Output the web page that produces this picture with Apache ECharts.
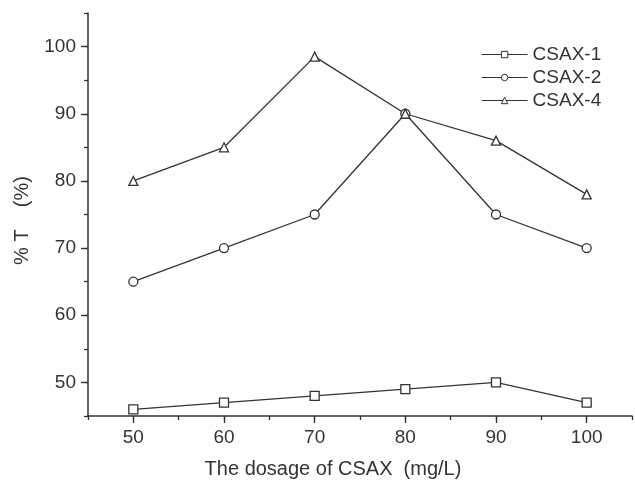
<!DOCTYPE html>
<html>
<head>
<meta charset="utf-8">
<script src="https://cdn.jsdelivr.net/npm/echarts@6/dist/echarts.min.js"></script>
<style>
  html, body { margin: 0; padding: 0; background: #fff; }
</style>
</head>
<body>
<!-- chart container, same size as the reference -->
<div id="chart" style="width: 635px;height:485px;"></div>
<script>
// data
const dosage = [50, 60, 70, 80, 90, 100]
const csax1 = [46, 47, 48, 49, 50, 47]
const csax2 = [65, 70, 75, 90, 75, 70]
const csax4 = [80, 85, 98.5, 90, 86, 78]
const xTickLabels = [50, 60, 70, 80, 90, 100]
const yTickLabels = [50, 60, 70, 80, 90, 100]

const ink = '#333'
const font = 'Liberation Sans, Arial, sans-serif'

const pairs = vals => dosage.map((d, i) => [d, vals[i]])

const lineSeries = (name, vals, symbol) => ({
  name: name,
  type: 'line',
  xAxisIndex: 0,
  yAxisIndex: 0,
  data: pairs(vals),
  symbol: symbol,
  symbolSize: 9,
  lineStyle: { color: ink, width: 1.3 },
  itemStyle: { color: '#fff', borderColor: ink, borderWidth: 1.3 },
  emphasis: { disabled: true },
  z: 3
})

const chart = echarts.init(document.getElementById('chart'))

const option = {
  animation: false,
  backgroundColor: '#fff',
  textStyle: { fontFamily: font, color: ink },
  grid: { left: 88, right: 3, top: 13, bottom: 69 },
  legend: {
    orient: 'vertical',
    left: 476,
    top: 40,
    itemWidth: 46,
    itemHeight: 8,
    itemGap: 4,
    itemStyle: { color: '#fff', borderColor: ink, borderWidth: 1 },
    lineStyle: { color: ink, width: 1.2 },
    textStyle: { fontSize: 19, color: ink, fontFamily: font },
    data: ['CSAX-1', 'CSAX-2', 'CSAX-4']
  },
  xAxis: [
    {
      type: 'value',
      min: 45,
      max: 105,
      interval: 5,
      name: 'The dosage of CSAX  (mg/L)',
      nameLocation: 'middle',
      nameGap: 43,
      nameTextStyle: { fontSize: 20, color: ink, padding: [0, 54, 0, 0] },
      axisLine: { onZero: false, lineStyle: { color: ink, width: 1.5 } },
      axisTick: { length: 4, lineStyle: { color: ink, width: 1.3 } },
      axisLabel: { customValues: xTickLabels, fontSize: 19, color: ink, margin: 12 },
      splitLine: { show: false }
    },
    {
      // overlay axis carrying the longer major ticks
      type: 'value',
      position: 'bottom',
      min: 45,
      max: 105,
      interval: 5,
      axisLine: { show: false },
      axisTick: { customValues: xTickLabels, length: 7, lineStyle: { color: ink, width: 1.3 } },
      axisLabel: { show: false },
      splitLine: { show: false }
    }
  ],
  yAxis: [
    {
      type: 'value',
      min: 45,
      max: 105,
      interval: 5,
      name: '% T    (%)',
      nameLocation: 'middle',
      nameGap: 56,
      nameTextStyle: { fontSize: 20, color: ink, padding: [0, 12, 0, 0] },
      axisLine: { onZero: false, lineStyle: { color: ink, width: 1.5 } },
      axisTick: { length: 4, lineStyle: { color: ink, width: 1.3 } },
      axisLabel: { customValues: yTickLabels, fontSize: 19, color: ink, margin: 12 },
      splitLine: { show: false }
    },
    {
      type: 'value',
      position: 'left',
      min: 45,
      max: 105,
      interval: 5,
      axisLine: { show: false },
      axisTick: { customValues: yTickLabels, length: 7, lineStyle: { color: ink, width: 1.3 } },
      axisLabel: { show: false },
      splitLine: { show: false }
    }
  ],
  series: [
    lineSeries('CSAX-1', csax1, 'rect'),
    lineSeries('CSAX-2', csax2, 'circle'),
    lineSeries('CSAX-4', csax4, 'triangle')
  ]
}

chart.setOption(option)
</script>
</body>
</html>
